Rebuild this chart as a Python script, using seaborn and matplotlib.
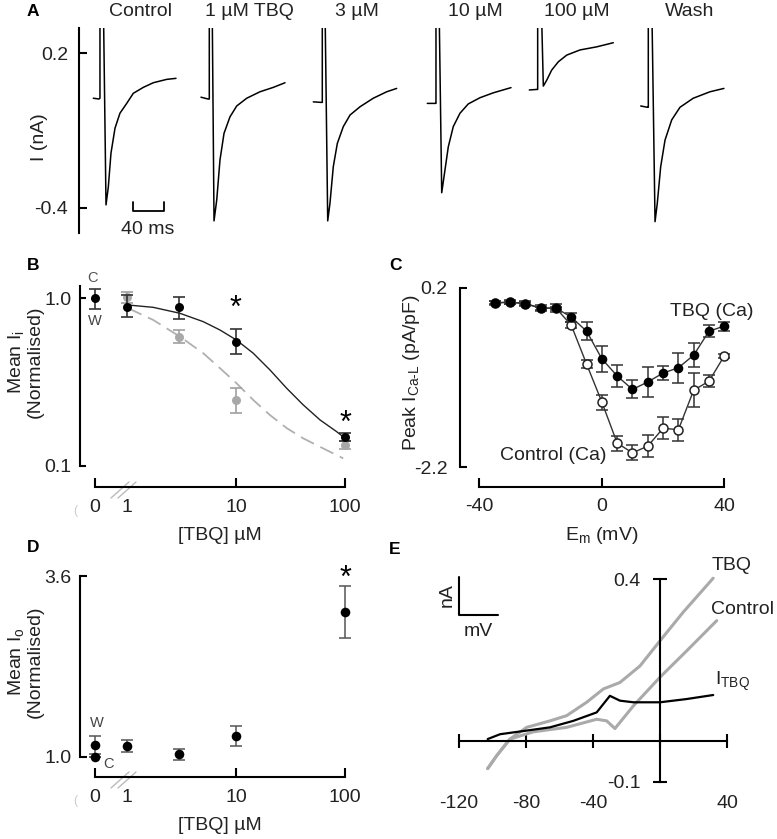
import numpy as np
import pandas as pd
import matplotlib
matplotlib.use("Agg")
import matplotlib.pyplot as plt
import seaborn as sns

W, H = 777, 839

# ---------------- Panel A: current traces (ms from trace start, nA) ----------------
ctrl_t = [0, 7.4, 8.6, 8.6, 12.1, 16.4, 19.4, 22.8, 28.0, 34.4, 43.1, 51.6, 64.5, 77.4, 94.7, 106.7]
ctrl_i = [0.025, 0.022, 0.025, 0.6, 0.6, -0.388, -0.318, -0.188, -0.091, -0.033, 0.005, 0.044, 0.067, 0.085, 0.098, 0.102]
tbq1_t = [0, 9.0, 10.7, 10.7, 13.8, 16.8, 20.3, 24.5, 29.7, 37.4, 46.1, 59.0, 76.1, 93.3, 108.4]
tbq1_i = [0.029, 0.022, 0.022, 0.6, 0.6, -0.450, -0.369, -0.214, -0.111, -0.047, -0.005, 0.025, 0.050, 0.067, 0.085]
tbq3_t = [0, 9.5, 11.6, 11.6, 14.2, 18.6, 21.5, 25.8, 31.0, 38.7, 47.4, 60.3, 77.4, 94.7, 107.6]
tbq3_i = [0.011, 0.009, 0.009, 0.6, 0.6, -0.450, -0.382, -0.240, -0.150, -0.085, -0.040, -0.008, 0.025, 0.050, 0.063]
tbq10_t = [0, 9.9, 11.2, 11.2, 14.2, 18.6, 22.8, 27.1, 33.5, 42.2, 52.9, 68.0, 85.2, 108.0]
tbq10_i = [0.005, 0.005, 0.005, 0.6, 0.6, -0.341, -0.253, -0.163, -0.085, -0.033, 0.003, 0.027, 0.046, 0.066]
tbq100_t = [0, 9.5, 10.8, 10.8, 13.8, 18.1, 22.5, 28.9, 37.4, 48.3, 65.4, 87.0, 108.4]
tbq100_i = [0.057, 0.059, 0.059, 0.6, 0.6, 0.072, 0.095, 0.134, 0.166, 0.192, 0.212, 0.224, 0.240]
wash_t = [0, 8.5, 9.8, 9.8, 13.3, 18.5, 21.4, 25.8, 31.4, 40.0, 50.7, 67.8, 89.4, 107.4]
wash_i = [-0.005, -0.010, -0.010, 0.6, 0.6, -0.453, -0.382, -0.240, -0.137, -0.059, -0.010, 0.025, 0.050, 0.063]
trace_titles = ["Control", "1 µM TBQ", "3 µM", "10 µM", "100 µM", "Wash"]

# ---------------- Panel B: mean Ii (normalised) vs [TBQ] ----------------
conc_b = [0, 1, 3, 10, 100]
ii_black = [1.0, 0.88, 0.88, 0.55, 0.149]
ii_black_lo = [0.860, 0.770, 0.750, 0.464, 0.141]
ii_black_hi = [1.131, 1.042, 1.010, 0.654, 0.157]
conc_gray = [1, 3, 10, 100]
ii_gray = [1.01, 0.589, 0.247, 0.133]
ii_gray_lo = [0.94, 0.540, 0.207, 0.126]
ii_gray_hi = [1.086, 0.645, 0.291, 0.140]
fit_x = [1.03, 1.74, 3.06, 5.01, 7.13, 10.1, 14.4, 20.5, 29.2, 41.4, 59.0, 83.9, 96.4]
fit_black_y = [0.908, 0.880, 0.811, 0.723, 0.645, 0.562, 0.469, 0.373, 0.290, 0.231, 0.188, 0.160, 0.149]
fit_gray_y = [0.868, 0.740, 0.589, 0.469, 0.382, 0.311, 0.247, 0.201, 0.168, 0.146, 0.130, 0.116, 0.111]

# ---------------- Panel C: peak ICa-L vs Em ----------------
em = [-35, -30, -25, -20, -15, -10, -5, 0, 5, 10, 15, 20, 25, 30, 35, 40]
ica_tbq = [0.0, 0.01, -0.01, -0.07, -0.07, -0.19, -0.38, -0.75, -0.98, -1.16, -1.06, -0.94, -0.87, -0.70, -0.38, -0.31]
ica_tbq_err = [0.03, 0.03, 0.03, 0.04, 0.05, 0.06, 0.12, 0.17, 0.15, 0.12, 0.2, 0.1, 0.2, 0.16, 0.08, 0.06]
ica_ctrl = [0.0, 0.01, -0.01, -0.07, -0.07, -0.30, -0.82, -1.33, -1.88, -2.01, -1.92, -1.68, -1.70, -1.17, -1.05, -0.71]
ica_ctrl_err = [0.02, 0.02, 0.02, 0.02, 0.02, 0.04, 0.05, 0.1, 0.1, 0.1, 0.15, 0.15, 0.15, 0.23, 0.08, 0.03]

# ---------------- Panel D: mean Io (normalised) vs [TBQ] ----------------
conc_d = [0, 0, 1, 3, 10, 100]
io_mean = [1.0, 1.17, 1.16, 1.04, 1.30, 3.08]
io_err = [0.0, 0.13, 0.09, 0.08, 0.14, 0.375]

# ---------------- Panel E: ramp I-V (mV, nA) ----------------
ramp_tbq_v = [-102.9, -97.5, -89.6, -79.6, -65.7, -55.7, -43.8, -33.8, -23.9, -11.9, 0, 13.9, 31.8]
ramp_tbq_i = [-0.068, -0.036, 0.005, 0.034, 0.050, 0.063, 0.096, 0.129, 0.145, 0.186, 0.248, 0.319, 0.403]
ramp_ctrl_v = [-102.9, -97.5, -89.6, -75.6, -55.7, -37.8, -31.8, -26.9, -15.9, 0, 15.9, 33.9]
ramp_ctrl_i = [-0.068, -0.036, 0.005, 0.023, 0.034, 0.054, 0.050, 0.031, 0.087, 0.158, 0.223, 0.298]
itbq_v = [-102.9, -95.5, -79.6, -65.7, -51.8, -37.8, -29.9, -23.9, -15.9, 0, 15.9, 31.8]
itbq_i = [0.005, 0.017, 0.026, 0.034, 0.050, 0.071, 0.112, 0.100, 0.096, 0.096, 0.104, 0.114]

sns.set_theme(style="white")
plt.rcParams['font.family'] = ['Liberation Sans', 'DejaVu Sans']
plt.rcParams['mathtext.fontset'] = 'custom'
plt.rcParams['mathtext.rm'] = 'Liberation Sans'
plt.rcParams['mathtext.it'] = 'Liberation Sans'
plt.rcParams['axes.unicode_minus'] = False

FS = 14
TXT = '#222222'
PT = 72 / 100  # points per pixel at dpi 100

fig = plt.figure(figsize=(W / 100, H / 100), dpi=100)


def px_axes(x0, y0, x1, y1):
    return fig.add_axes([x0 / W, 1 - y1 / H, (x1 - x0) / W, (y1 - y0) / H])


def style(ax):
    ax.patch.set_alpha(0)
    for s in ['top', 'right']:
        ax.spines[s].set_visible(False)
    for s in ['left', 'bottom']:
        ax.spines[s].set_linewidth(1.5)
        ax.spines[s].set_color('black')
    ax.tick_params(direction='in', width=1.5, length=6, labelsize=FS, colors='black',
                   labelcolor=TXT, bottom=True, left=True)
    ax.set_xlabel('')
    ax.set_ylabel('')


# overlay for text in pixel coordinates
ov = fig.add_axes([0, 0, 1, 1])
ov.set_xlim(0, W)
ov.set_ylim(H, 0)
ov.axis('off')


def T(x, y, s, size=FS, **kw):
    kw.setdefault('ha', 'center')
    kw.setdefault('va', 'center')
    kw.setdefault('color', TXT)
    ov.text(x, y, s, fontsize=size, **kw)


# ---------------- A ----------------
axA = px_axes(79, 28, 777, 233)
ms_per_px = 1 / 0.775
offsets = [(p - 79) * ms_per_px for p in [93.3, 201, 313.3, 427.3, 529.3, 640.7]]
traces = [(ctrl_t, ctrl_i), (tbq1_t, tbq1_i), (tbq3_t, tbq3_i),
          (tbq10_t, tbq10_i), (tbq100_t, tbq100_i), (wash_t, wash_i)]
rows = []
for k, ((tt, ii), off) in enumerate(zip(traces, offsets)):
    for t, i in zip(tt, ii):
        rows.append({'trace': k, 't': t + off, 'I': i})
dfA = pd.DataFrame(rows)
sns.lineplot(data=dfA, x='t', y='I', units='trace', estimator=None, sort=False,
             color='black', lw=1.1, ax=axA)
axA.set_xlim(0, 698 * ms_per_px)
axA.set_ylim(-0.497, 0.297)
style(axA)
axA.spines['bottom'].set_visible(False)
axA.set_xticks([])
axA.set_yticks([-0.4, 0.2], labels=['-0.4', '0.2'])
axA.tick_params(axis='y', pad=8, length=6)
# 40 ms scale bar
sb0 = (133 - 79) * ms_per_px
axA.plot([sb0, sb0, sb0 + 40, sb0 + 40], [-0.377, -0.412, -0.412, -0.377],
         color='black', lw=1.3, clip_on=False)
T(148, 229, '40 ms')
T(40, 137, 'I (nA)', rotation=90)
T(33, 12, 'A', size=12.5, weight='bold', color='black')
for xc, s in zip([140, 249, 357, 475, 577, 690], trace_titles):
    T(xc, 12, s)

# ---------------- B ----------------
zero_pos = 0.508
axB = px_axes(85, 280, 350, 470)
axB.set_xscale('log')
axB.set_yscale('log')
xb = [zero_pos if c == 0 else c for c in conc_b]
axB.errorbar(conc_gray, ii_gray,
             yerr=[np.subtract(ii_gray, ii_gray_lo), np.subtract(ii_gray_hi, ii_gray)],
             fmt='none', ecolor='#a0a0a0', elinewidth=1.2, capsize=4.5, capthick=1.2, zorder=2)
sns.lineplot(x=fit_x, y=fit_gray_y, color='#b0b0b0', lw=1.3, linestyle=(0, (8, 4)), ax=axB, zorder=1)
sns.scatterplot(x=conc_gray, y=ii_gray, color='#a8a8a8', s=42, linewidth=0, ax=axB, zorder=3)
axB.errorbar(xb, ii_black,
             yerr=[np.subtract(ii_black, ii_black_lo), np.subtract(ii_black_hi, ii_black)],
             fmt='none', ecolor='#333333', elinewidth=1.2, capsize=4.5, capthick=1.2, zorder=4)
sns.lineplot(x=fit_x, y=fit_black_y, color='#222222', lw=1.0, ax=axB, zorder=4)
sns.scatterplot(x=xb, y=ii_black, color='black', s=42, linewidth=0, ax=axB, zorder=5)
axB.set_xlim(0.412, 111.2)
axB.set_ylim(0.0946, 1.28)
style(axB)
axB.minorticks_off()
axB.spines['left'].set_position(('outward', 5 * PT))
axB.spines['bottom'].set_position(('outward', 17 * PT))
axB.spines['left'].set_bounds(0.1, 1.18)
axB.spines['bottom'].set_bounds(zero_pos, 100)
axB.set_yticks([0.1, 1.0], labels=['0.1', '1.0'])
axB.set_xticks([zero_pos, 1, 10, 100], labels=['0', '1', '10', '100'])
axB.tick_params(axis='y', pad=6, length=4.5)
axB.tick_params(axis='x', pad=9, length=6.5)
axB.xaxis.get_major_ticks()[1].tick1line.set_visible(False)
T(33, 266, 'B', size=12.5, weight='bold', color='black')
T(25, 362, 'Mean I$_\\mathrm{i}$\n(Normalised)', rotation=90, linespacing=1.05)
T(220, 535, '[TBQ] µM')
T(93, 278, 'C', size=10.5, color='#555555')
T(95, 321, 'W', size=10.5, color='#444444')
T(236, 309, '*', size=22, color='black')
T(345, 424, '*', size=22, color='black')
T(75, 511, '(', size=9, color='#cccccc')
for dy in [0, 290]:
    ov.plot([111, 129], [498 + dy, 482 + dy], color='#bbbbbb', lw=1)
    ov.plot([118, 136], [498 + dy, 482 + dy], color='#bbbbbb', lw=1)

# ---------------- C ----------------
axC = px_axes(470, 285, 735, 470)
dfC = pd.DataFrame({'em': em, 'tbq': ica_tbq, 'ctrl': ica_ctrl})
sns.lineplot(data=dfC, x='em', y='ctrl', color='#333333', lw=1.0, ax=axC, zorder=1)
axC.errorbar(em, ica_ctrl, yerr=ica_ctrl_err, fmt='none', ecolor='#333333',
             elinewidth=1.1, capsize=4, capthick=1.1, zorder=2)
sns.scatterplot(data=dfC, x='em', y='ctrl', color='white', edgecolor='#222222',
                linewidth=1.1, s=42, ax=axC, zorder=3)
sns.lineplot(data=dfC, x='em', y='tbq', color='#333333', lw=1.0, ax=axC, zorder=4)
axC.errorbar(em, ica_tbq, yerr=ica_tbq_err, fmt='none', ecolor='#333333',
             elinewidth=1.1, capsize=4, capthick=1.1, zorder=5)
sns.scatterplot(data=dfC, x='em', y='tbq', color='black', linewidth=0, s=48, ax=axC, zorder=6)
axC.set_xlim(-43.1, 43.5)
axC.set_ylim(-2.24, 0.24)
style(axC)
axC.spines['left'].set_position(('outward', 10 * PT))
axC.spines['bottom'].set_position(('outward', 17 * PT))
axC.spines['left'].set_bounds(-2.2, 0.2)
axC.spines['bottom'].set_bounds(-40, 40)
axC.set_yticks([-2.2, 0.2], labels=['-2.2', '0.2'])
axC.set_xticks([-40, 0, 40], labels=['-40', '0', '40'])
axC.tick_params(axis='y', pad=9, length=5)
axC.tick_params(axis='x', pad=8, length=6.5)
T(395, 265, 'C', size=12.5, weight='bold', color='black')
T(412, 373, 'Peak I$_\\mathrm{Ca\u2010L}$ (pA/pF)', rotation=90)
T(602, 536, 'E$_\\mathrm{m}$ (mV)')
T(712, 312, 'TBQ (Ca)')
T(553, 455, 'Control (Ca)')

# ---------------- D ----------------
axD = px_axes(85, 570, 350, 765)
axD.set_xscale('log')
xd = [zero_pos if c == 0 else c for c in conc_d]
axD.errorbar(xd, io_mean, yerr=io_err, fmt='none', ecolor='#555555',
             elinewidth=1.1, capsize=4.5, capthick=1.1, zorder=2)
sns.scatterplot(x=xd, y=io_mean, color='black', linewidth=0, s=48, ax=axD, zorder=3)
axD.set_xlim(0.412, 111.2)
axD.set_ylim(0.885, 3.687)
style(axD)
axD.minorticks_off()
axD.spines['left'].set_position(('outward', 5 * PT))
axD.spines['bottom'].set_position(('outward', 12 * PT))
axD.spines['left'].set_bounds(1.0, 3.6)
axD.spines['bottom'].set_bounds(zero_pos, 100)
axD.set_yticks([1.0, 3.6], labels=['1.0', '3.6'])
axD.set_xticks([zero_pos, 1, 10, 100], labels=['0', '1', '10', '100'])
axD.tick_params(axis='y', pad=6, length=5)
axD.tick_params(axis='x', pad=9, length=6.5)
axD.xaxis.get_major_ticks()[1].tick1line.set_visible(False)
T(33, 548, 'D', size=12.5, weight='bold', color='black')
T(25, 662, 'Mean I$_\\mathrm{o}$\n(Normalised)', rotation=90, linespacing=1.05)
T(220, 825, '[TBQ] µM')
T(97, 723, 'W', size=10.5, color='#444444')
T(108, 764, 'C', size=10.5, color='#444444')
T(345, 579, '*', size=22, color='black')
T(75, 801, '(', size=9, color='#cccccc')

# ---------------- E ----------------
axE = px_axes(450, 560, 740, 790)
sns.lineplot(x=ramp_tbq_v, y=ramp_tbq_i, sort=False, color='#aaaaaa', lw=2.2, ax=axE)
sns.lineplot(x=ramp_ctrl_v, y=ramp_ctrl_i, sort=False, color='#aaaaaa', lw=2.2, ax=axE)
sns.lineplot(x=itbq_v, y=itbq_i, sort=False, color='black', lw=1.6, ax=axE)
axE.set_xlim(-125.4, 47.8)
axE.set_ylim(-0.121, 0.448)
style(axE)
axE.spines['left'].set_position(('data', 0))
axE.spines['bottom'].set_position(('data', 0))
axE.spines['left'].set_bounds(-0.1, 0.4)
axE.spines['bottom'].set_bounds(-120, 40)
axE.set_xticks([-120, -80, -40, 0, 40], labels=['-120', '-80', '-40', '', '40'])
axE.set_yticks([-0.1, 0.4], labels=['-0.1', '0.4'])
axE.tick_params(direction='inout', length=10)
axE.tick_params(axis='x', pad=34)
axE.tick_params(axis='y', pad=9)
T(395, 549, 'E', size=12.5, weight='bold', color='black')
ov.plot([459, 459, 498], [577, 615, 615], color='black', lw=1.5)
T(447, 595, 'nA', rotation=90)
T(478, 631, 'mV')
T(732, 565, 'TBQ')
T(743, 610, 'Control')
T(732, 681, 'I$_\\mathrm{TBQ}$')

fig.savefig('out.png', dpi=100)
